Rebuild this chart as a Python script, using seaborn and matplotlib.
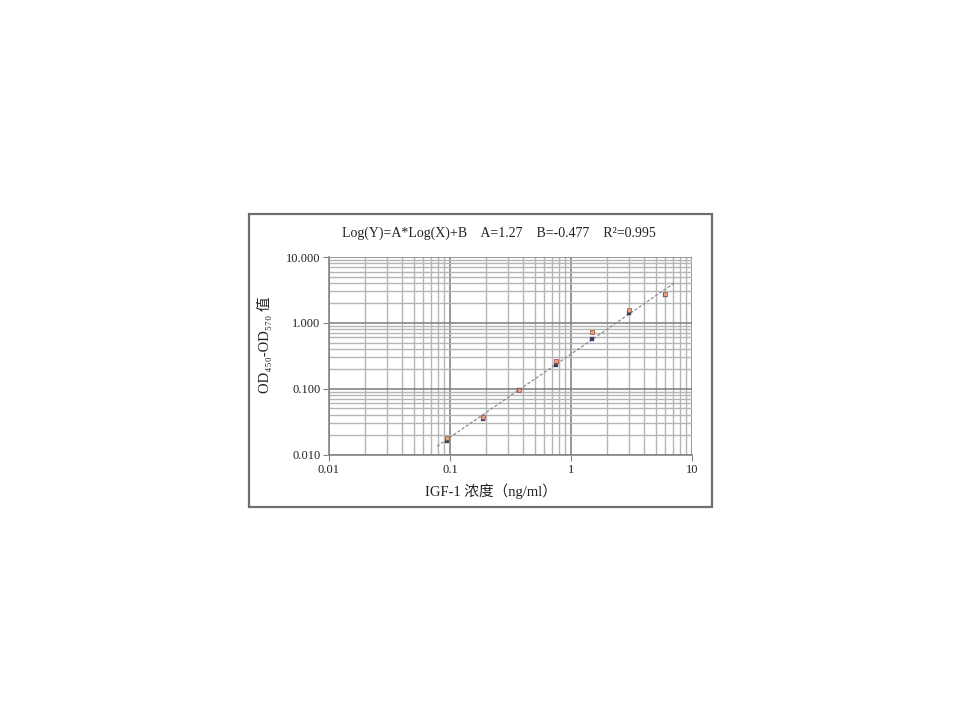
import numpy as np
import pandas as pd
import matplotlib
matplotlib.use("Agg")
import matplotlib.pyplot as plt
from matplotlib.ticker import LogLocator, FixedLocator, FixedFormatter, NullFormatter
from matplotlib.patches import Rectangle
import seaborn as sns

# ---- data ----
conc = [0.094, 0.1875, 0.375, 0.75, 1.5, 3.0, 6.0]
rep1 = [0.018, 0.037, 0.097, 0.26, 0.73, 1.55, 2.70]   # orange markers
rep2 = [0.016, 0.035, 0.096, 0.225, 0.56, 1.43, 2.65]  # dark markers
fit_x = [0.078, 7.3]
fit_y = [0.0133, 4.15]
x_ticks = [0.01, 0.1, 1, 10]
x_tick_labels = ["0.01", "0.1", "1", "10"]
y_ticks = [0.01, 0.1, 1, 10]
y_tick_labels = ["0.010", "0.100", "1.000", "10.000"]
title = "Log(Y)=A*Log(X)+B    A=1.27    B=-0.477    R²=0.995"
xlabel = "IGF-1 浓度（ng/ml）"
ylabel = "OD₄₅₀-OD₅₇₀ 值"

sns.set_theme(style="white")
plt.rcParams["font.family"] = ["Liberation Serif", "Noto Sans CJK SC", "DejaVu Sans"]

fig = plt.figure(figsize=(9.6, 7.2), dpi=100)
fig.patch.set_facecolor("white")

# outer frame
fig.patches.append(Rectangle((249 / 960, 1 - 506.5 / 720), (711.5 - 249) / 960, (506.5 - 214) / 720,
                             transform=fig.transFigure, fill=False, edgecolor="#6e6e6e", linewidth=1.6))

ax = fig.add_axes([329 / 960, 1 - 454.5 / 720, (692 - 329) / 960, (454.5 - 257) / 720])
ax.set_xscale("log")
ax.set_yscale("log")
ax.set_xlim(0.01, 10)
ax.set_ylim(0.01, 10)

df_fit = pd.DataFrame({"x": fit_x, "y": fit_y})
sns.lineplot(data=df_fit, x="x", y="y", ax=ax, color="#8c8c8c", linewidth=0.9,
             linestyle=(0, (2.5, 1.5)), zorder=3)

df1 = pd.DataFrame({"x": conc, "y": rep1})
df2 = pd.DataFrame({"x": conc, "y": rep2})
sns.scatterplot(data=df2, x="x", y="y", ax=ax, marker="s", s=5, color="#3c3c6c",
                edgecolor="#3c3c6c", linewidth=0.2, zorder=4)
sns.scatterplot(data=df1, x="x", y="y", ax=ax, marker="s", s=10, color="#e9a07c",
                edgecolor="#9a5040", linewidth=0.5, zorder=5)

# grid
ax.xaxis.set_major_locator(FixedLocator(x_ticks))
ax.xaxis.set_major_formatter(FixedFormatter(x_tick_labels))
ax.yaxis.set_major_locator(FixedLocator(y_ticks))
ax.yaxis.set_major_formatter(FixedFormatter(y_tick_labels))
ax.xaxis.set_minor_locator(LogLocator(base=10, subs=np.arange(2, 10)))
ax.yaxis.set_minor_locator(LogLocator(base=10, subs=np.arange(2, 10)))
ax.xaxis.set_minor_formatter(NullFormatter())
ax.yaxis.set_minor_formatter(NullFormatter())
ax.grid(True, which="major", color="#858585", linewidth=1.2)
ax.grid(True, which="minor", color="#b5b5b5", linewidth=1.0)
ax.set_axisbelow(True)

for side in ["top", "right"]:
    ax.spines[side].set_visible(False)
for side in ["left", "bottom"]:
    ax.spines[side].set_color("#858585")
    ax.spines[side].set_linewidth(1.2)

ax.tick_params(axis="both", which="major", length=4, width=0.8, color="#858585",
               labelsize=9, labelcolor="#222222", direction="out", bottom=True, left=True)
ax.tick_params(axis="both", which="minor", length=0)
ax.tick_params(axis="x", pad=3)
ax.tick_params(axis="y", pad=2)
ax.set_xlabel("")
ax.set_ylabel("")

fig.text(491 / 960, 1 - 491 / 720, xlabel, ha="center", va="center", fontsize=10.5, color="#222222")
fig.text(264 / 960, 1 - 345 / 720, ylabel, ha="center", va="center", rotation=90,
         fontsize=10.5, color="#222222")
fig.text(499 / 960, 1 - 233 / 720, title, ha="center", va="center", fontsize=10, color="#222222")

fig.savefig("out.png", dpi=100, facecolor="white")
